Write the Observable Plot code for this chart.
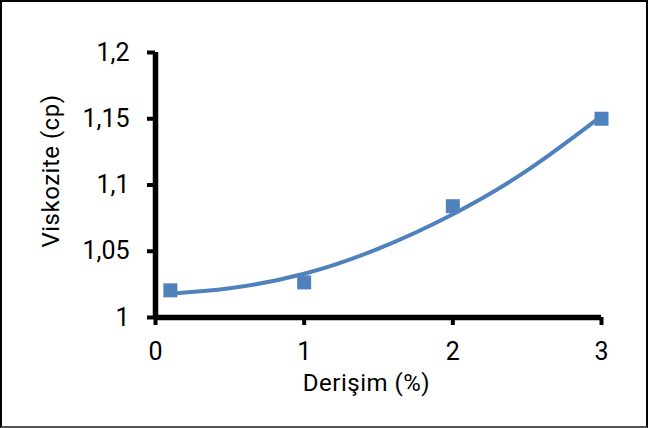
<!DOCTYPE html>
<html>
<head>
<meta charset="utf-8">
<script src="https://cdn.jsdelivr.net/npm/d3@7"></script>
<script src="https://cdn.jsdelivr.net/npm/@observablehq/plot@0.6"></script>
<style>
  html, body { margin: 0; padding: 0; background: #fff; }
  #frame { width: 648px; height: 428px; box-sizing: border-box; border: 2px solid #000; border-bottom-color: #555; position: relative; overflow: hidden; }
  #frame svg { position: absolute; left: -2px; top: -2px; max-width: none !important; font-family: Roboto, sans-serif; color: #000; }
</style>
</head>
<body>
<div id="frame"></div>
<script>
const concentration = [0.1, 1, 2, 3];
const viscosity = [1.0205, 1.0265, 1.084, 1.15];
const trendX = [0.1, 0.5, 1, 1.5, 2, 2.5, 3];
const trendY = [1.018, 1.022, 1.033, 1.052, 1.078, 1.111, 1.152];
const xTicks = [0, 1, 2, 3];
const yTicks = [1, 1.05, 1.1, 1.15, 1.2];

const points = concentration.map((x, i) => ({x, y: viscosity[i]}));
const trend = trendX.map((x, i) => ({x, y: trendY[i]}));
const fmt = d => String(d).replace(".", ",");
const blue = "#4f81bd";

const chart = Plot.plot({
  width: 648,
  height: 428,
  marginLeft: 155,
  marginRight: 47,
  marginTop: 52,
  marginBottom: 111,
  x: {domain: [0, 3]},
  y: {domain: [1, 1.2]},
  marks: [
    Plot.line(trend, {x: "x", y: "y", stroke: blue, strokeWidth: 4, curve: "natural"}),
    Plot.dot(points, {x: "x", y: "y", symbol: "square", r: 7.9, fill: blue, stroke: "none"}),
    Plot.axisY({ticks: yTicks, tickFormat: fmt, tickSize: 8, strokeWidth: 4, tickPadding: 18, fontSize: 25, label: null}),
    Plot.axisX({ticks: xTicks, tickFormat: fmt, tickSize: 8, strokeWidth: 4, tickPadding: 17, fontSize: 25, label: null}),
    Plot.ruleY([1], {stroke: "#000", strokeWidth: 5.5}),
    Plot.ruleX([0], {stroke: "#000", strokeWidth: 5.5}),
    Plot.text(["Derişim (%)"], {frameAnchor: "bottom", textAnchor: "middle", dx: -12, dy: 73, fontSize: 24, lineAnchor: "bottom"}),
    Plot.text(["Viskozite (cp)"], {frameAnchor: "left", textAnchor: "middle", lineAnchor: "middle", dx: -104, dy: -14, rotate: -90, fontSize: 24})
  ]
});
d3.select(chart).selectAll('g[aria-label="text"] text').style("letter-spacing", "0.5px");
document.getElementById("frame").appendChild(chart);
</script>
</body>
</html>
